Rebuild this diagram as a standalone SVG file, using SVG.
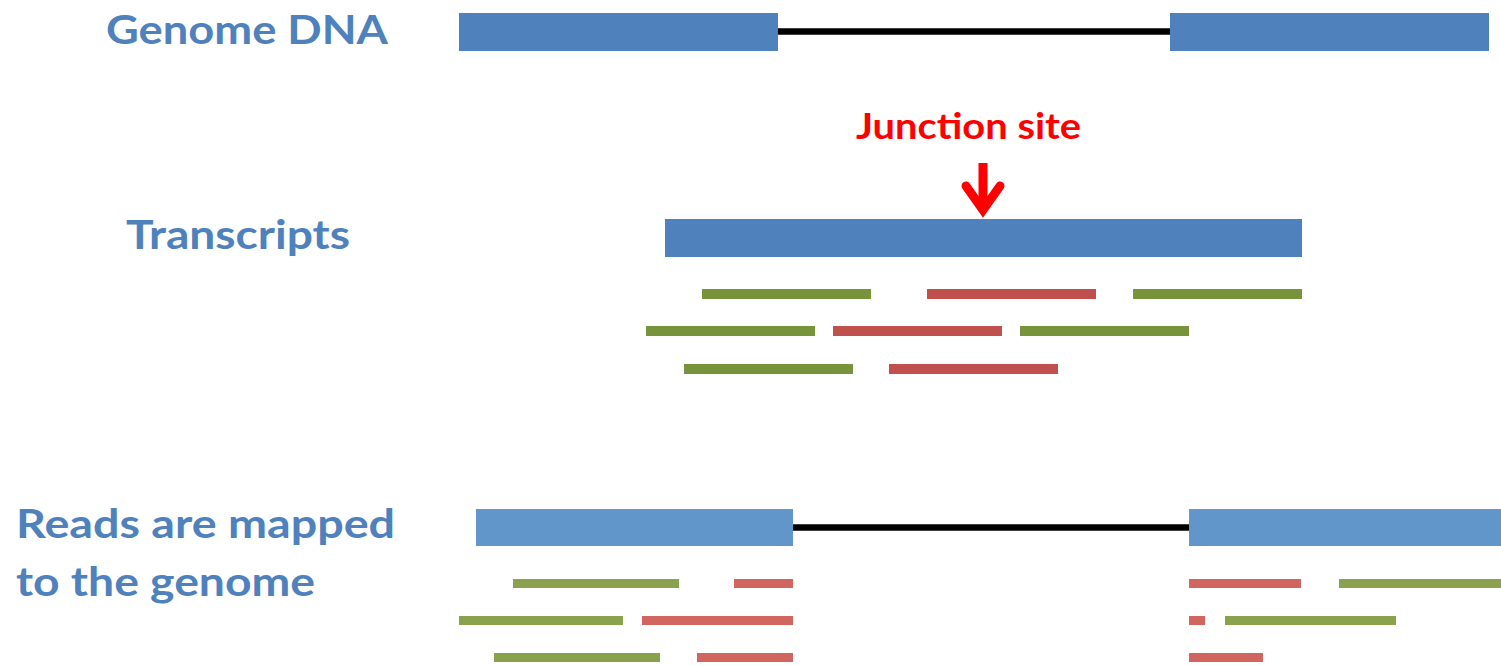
<svg xmlns="http://www.w3.org/2000/svg" width="1501" height="666" viewBox="0 0 1501 666">
  <style>
    .label { font-family: Lato, "Open Sans", "Liberation Sans", sans-serif; font-weight: bold; fill: #4f81bd; }
    .junction { font-family: Lato, "Open Sans", "Liberation Sans", sans-serif; font-weight: bold; fill: #ff0000; }
    .exon { fill: #4f81bd; }
    .exon2 { fill: #6096c9; }
    .rg { fill: #77933c; }
    .rr { fill: #c0504d; }
    .mg { fill: #8aa24d; }
    .mr { fill: #d0665f; }
    .intron { stroke: #000; stroke-width: 6.5; fill: none; }
    .arrow { stroke: #ff0000; stroke-width: 9; fill: none; }
  </style>
  <rect width="1501" height="666" fill="#ffffff"/>

  <!-- row labels -->
  <g id="label-genome"><text class="label" x="106" y="44" font-size="41" textLength="282" lengthAdjust="spacingAndGlyphs">Genome DNA</text></g>
  <g id="label-transcripts"><text class="label" x="126" y="249" font-size="41" textLength="224" lengthAdjust="spacingAndGlyphs">Transcripts</text></g>
  <g id="label-mapped">
    <text class="label" x="16" y="538" font-size="40" textLength="379" lengthAdjust="spacingAndGlyphs">Reads are mapped</text>
    <text class="label" x="16" y="596" font-size="40" textLength="299" lengthAdjust="spacingAndGlyphs">to the genome</text>
  </g>
  <g id="label-junction"><text class="junction" x="856" y="139" font-size="36" textLength="225" lengthAdjust="spacingAndGlyphs">Junction site</text></g>

  <!-- connectors: introns and the junction pointer -->
  <g id="connectors">
    <line class="intron" x1="778" y1="31.5" x2="1170" y2="31.5"/>
    <line class="intron" x1="793" y1="527.5" x2="1189" y2="527.5"/>
    <line class="arrow" x1="983" y1="163" x2="983" y2="208"/>
    <polyline class="arrow" points="966,186 983,210 1000,186" stroke-linejoin="miter" stroke-linecap="round"/>
  </g>

  <!-- genome exons -->
  <g id="genome-exon-1"><rect class="exon" x="459" y="13" width="319" height="38"/></g>
  <g id="genome-exon-2"><rect class="exon" x="1170" y="13" width="319" height="38"/></g>

  <!-- transcript -->
  <g id="transcript"><rect class="exon" x="665" y="219" width="637" height="38"/></g>

  <!-- reads on the transcript -->
  <g id="transcript-reads">
    <rect class="rg" x="702" y="289" width="169" height="10"/>
    <rect class="rr" x="927" y="289" width="169" height="10"/>
    <rect class="rg" x="1133" y="289" width="169" height="10"/>
    <rect class="rg" x="646" y="326" width="169" height="10"/>
    <rect class="rr" x="833" y="326" width="169" height="10"/>
    <rect class="rg" x="1020" y="326" width="169" height="10"/>
    <rect class="rg" x="684" y="364" width="169" height="10"/>
    <rect class="rr" x="889" y="364" width="169" height="10"/>
  </g>

  <!-- mapped genome exons -->
  <g id="mapped-exon-1"><rect class="exon2" x="476" y="509" width="317" height="37"/></g>
  <g id="mapped-exon-2"><rect class="exon2" x="1189" y="509" width="312" height="37"/></g>

  <!-- reads mapped to the genome -->
  <g id="mapped-reads">
    <rect class="mg" x="513" y="579" width="166" height="9"/>
    <rect class="mr" x="734" y="579" width="59" height="9"/>
    <rect class="mr" x="1189" y="579" width="112" height="9"/>
    <rect class="mg" x="1339" y="579" width="162" height="9"/>
    <rect class="mg" x="459" y="616" width="164" height="9"/>
    <rect class="mr" x="642" y="616" width="151" height="9"/>
    <rect class="mr" x="1189" y="616" width="16" height="9"/>
    <rect class="mg" x="1225" y="616" width="171" height="9"/>
    <rect class="mg" x="494" y="653" width="166" height="9"/>
    <rect class="mr" x="697" y="653" width="96" height="9"/>
    <rect class="mr" x="1189" y="653" width="74" height="9"/>
  </g>
</svg>
